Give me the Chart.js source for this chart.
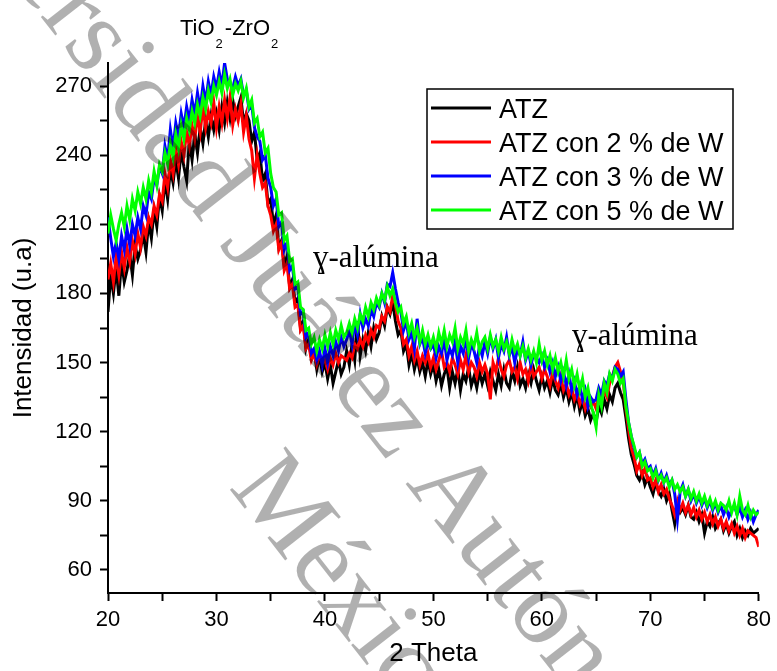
<!DOCTYPE html>
<html>
<head>
<meta charset="utf-8">
<script src="https://cdn.jsdelivr.net/npm/chart.js@4.4.1/dist/chart.umd.min.js"></script>
<style>
html, body { margin: 0; padding: 0; background: #fff; }
canvas { display: block; }
</style>
</head>
<body>
<canvas id="xrd" width="777" height="671"></canvas>
<script>
// 2 Theta grid: one reading every 0.25 deg from 20 to 80
var thetaStart = 20, thetaStep = 0.25;

var atz = [
  172, 188, 180, 191, 179, 194, 185, 190, 197, 188, 201, 195, 199, 206, 198, 211, 204, 216, 209, 222,
  216, 229, 221, 234, 228, 238, 230, 242, 235, 229, 246, 238, 249, 241, 252, 245, 255, 248, 257, 251,
  258, 251, 261, 254, 263, 256, 264, 257, 261, 265, 254, 258, 255, 246, 250, 238, 241, 229, 232, 219,
  221, 210, 214, 200, 203, 192, 196, 183, 186, 176, 178, 165, 168, 156, 160, 152, 155, 147, 153, 146,
  150, 143, 149, 141, 146, 151, 145, 148, 155, 149, 158, 151, 168, 153, 160, 155, 163, 157, 165, 160,
  163, 170, 166, 174, 171, 176, 168, 162, 164, 155, 158, 149, 154, 147, 152, 146, 150, 144, 151, 145,
  149, 142, 147, 140, 145, 148, 139, 146, 141, 147, 138, 145, 142, 148, 140, 144, 139, 146, 141, 145,
  140, 146, 142, 138, 145, 140, 147, 141, 139, 146, 142, 148, 140, 143, 139, 145, 141, 147, 142, 138,
  144, 139, 142, 137, 143, 138, 136, 141, 135, 139, 133, 137, 131, 136, 129, 133, 127, 130, 125, 128,
  124, 131, 128, 134, 130, 136, 133, 139, 141, 137, 134, 126, 117, 110, 106, 101, 99, 102, 97, 100,
  96, 93, 98, 94, 92, 95, 90, 93, 86, 80, 88, 85, 87, 84, 88, 83, 82, 85, 81, 84,
  76, 81, 79, 83, 78, 80, 82, 77, 80, 76, 79, 81, 75, 78, 74, 77, 75, 78, 76, 77,
  78
];

var atzW2 = [
  186, 193, 185, 196, 188, 198, 191, 200, 194, 203, 197, 206, 200, 209, 205, 213, 210, 218, 214, 223,
  220, 232, 226, 238, 232, 243, 236, 246, 240, 250, 244, 253, 247, 257, 250, 261, 252, 259, 254, 263,
  252, 261, 254, 264, 256, 265, 253, 260, 255, 262, 250, 257, 247, 242, 230, 240, 232, 226, 228, 218,
  214, 207, 210, 199, 202, 190, 193, 182, 184, 174, 175, 164, 166, 156, 158, 151, 154, 149, 153, 150,
  151, 147, 152, 149, 154, 150, 153, 152, 151, 154, 152, 158, 156, 160, 157, 162, 159, 164, 161, 166,
  165, 170, 168, 174, 172, 179, 175, 168, 165, 158, 160, 153, 157, 151, 155, 149, 153, 150, 154, 148,
  152, 147, 151, 155, 148, 150, 146, 152, 149, 145, 151, 147, 153, 146, 150, 148, 144, 150, 146, 149,
  145, 134, 150, 146, 152, 147, 144, 149, 151, 146, 148, 143, 150, 145, 147, 142, 149, 144, 146, 148,
  143, 147, 144, 140, 146, 142, 139, 144, 138, 141, 136, 139, 134, 137, 132, 135, 130, 134, 131, 133,
  130, 136, 133, 138, 135, 141, 144, 148, 150, 146, 142, 130, 121, 113, 109, 103, 106, 101, 104, 99,
  100, 96, 99, 94, 97, 93, 95, 91, 88, 84, 90, 86, 89, 85, 88, 84, 87, 83, 86, 82,
  85, 81, 84, 80, 83, 79, 82, 78, 81, 77, 80, 76, 79, 75, 78, 74, 77, 76, 75, 74,
  70
];

var atzW3 = [
  213, 204, 196, 202, 195, 205, 199, 208, 201, 210, 205, 213, 208, 218, 214, 224, 221, 230, 227, 235,
  232, 244, 238, 251, 243, 254, 248, 258, 252, 261, 255, 264, 258, 267, 260, 270, 263, 272, 266, 274,
  269, 276, 270, 280, 273, 271, 269, 274, 270, 273, 266, 268, 260, 262, 252, 248, 246, 238, 240, 230,
  226, 218, 221, 209, 211, 199, 202, 190, 192, 182, 183, 171, 172, 161, 163, 154, 156, 151, 155, 149,
  156, 150, 157, 153, 159, 155, 161, 157, 160, 164, 158, 167, 162, 171, 165, 169, 166, 173, 170, 176,
  174, 180, 176, 184, 183, 189, 182, 176, 172, 164, 168, 160, 163, 156, 169, 158, 161, 154, 159, 156,
  158, 152, 157, 154, 160, 151, 156, 153, 159, 150, 157, 154, 161, 152, 158, 155, 150, 157, 153, 159,
  154, 161, 156, 160, 152, 158, 155, 161, 153, 157, 150, 156, 153, 159, 151, 155, 149, 154, 152, 150,
  153, 148, 151, 146, 150, 144, 148, 142, 146, 140, 145, 138, 142, 136, 140, 134, 138, 131, 135, 133,
  134, 139, 136, 142, 140, 145, 143, 148, 147, 144, 146, 134, 124, 118, 113, 109, 111, 106, 108, 104,
  105, 101, 104, 99, 102, 98, 101, 97, 99, 93, 82, 94, 97, 92, 95, 90, 93, 89, 92, 88,
  91, 87, 90, 86, 89, 85, 88, 84, 87, 83, 86, 88, 84, 87, 83, 86, 82, 85, 81, 84,
  86
];

var atzW5 = [
  206, 214, 208, 203, 210, 215, 209, 218, 212, 221, 216, 224, 219, 226, 221, 229, 224, 233, 227, 236,
  233, 241, 236, 245, 239, 249, 243, 253, 247, 256, 251, 259, 254, 262, 257, 265, 260, 268, 263, 270,
  266, 272, 267, 275, 269, 273, 266, 271, 268, 272, 265, 269, 261, 264, 254, 256, 248, 250, 241, 243,
  232, 226, 224, 214, 215, 203, 205, 194, 195, 184, 185, 174, 173, 164, 165, 158, 161, 155, 160, 156,
  162, 157, 163, 158, 164, 160, 166, 161, 163, 167, 163, 169, 165, 171, 168, 174, 170, 176, 173, 178,
  175, 180, 177, 183, 179, 182, 176, 172, 174, 167, 170, 163, 167, 161, 165, 159, 164, 158, 162, 157,
  161, 156, 163, 158, 164, 157, 162, 159, 165, 156, 161, 158, 164, 155, 160, 157, 163, 155, 159, 161,
  156, 162, 157, 160, 155, 161, 156, 159, 154, 160, 155, 158, 153, 157, 152, 156, 151, 155, 150, 158,
  151, 155, 149, 153, 147, 152, 146, 150, 144, 151, 143, 147, 140, 145, 138, 143, 135, 139, 132, 128,
  122, 136, 131, 141, 137, 145, 142, 147, 145, 141, 143, 131, 124, 118, 114, 109, 111, 105, 107, 103,
  104, 100, 103, 99, 101, 98, 100, 96, 99, 95, 97, 94, 96, 92, 95, 91, 94, 90, 93, 89,
  92, 88, 91, 87, 90, 86, 89, 88, 86, 90, 85, 89, 84, 92, 86, 84, 88, 83, 86, 84,
  85
];

var seriesNames = ["ATZ", "ATZ con 2 % de W", "ATZ con 3 % de W", "ATZ con 5 % de W"];
var seriesColors = ["#000000", "#ff0000", "#0000ff", "#00ff00"];

var xMajor = [20, 30, 40, 50, 60, 70, 80];
var xMinor = [25, 35, 45, 55, 65, 75];
var yMajor = [60, 90, 120, 150, 180, 210, 240, 270];
var yMinor = [75, 105, 135, 165, 195, 225, 255];

function toPoints(arr) {
  return arr.map(function (v, i) { return { x: thetaStart + i * thetaStep, y: v }; });
}

function setTicks(major, minor) {
  return function (scale) {
    scale.ticks = major.concat(minor).sort(function (a, b) { return a - b; })
      .map(function (v) { return { value: v }; });
  };
}

function labelMajor(major) {
  return function (value) { return major.indexOf(value) >= 0 ? String(value) : ''; };
}

var sans = '"Liberation Sans", Arial, sans-serif';
var serif = '"Liberation Serif", "Times New Roman", "DejaVu Serif", serif';

var allSeries = [atz, atzW2, atzW3, atzW5];
var datasets = allSeries.map(function (arr, i) {
  return {
    label: seriesNames[i],
    data: toPoints(arr),
    borderColor: seriesColors[i],
    backgroundColor: seriesColors[i],
    borderWidth: 3,
    pointRadius: 0,
    tension: 0,
    order: allSeries.length - 1 - i
  };
});

var extras = {
  id: 'extras',
  afterDatasetsDraw: function (chart) {
    var ctx = chart.ctx;
    ctx.save();
    ctx.fillStyle = '#000';
    ctx.textBaseline = 'alphabetic';
    ctx.textAlign = 'left';

    // TiO2-ZrO2
    var x = 180;
    ctx.font = '22px ' + sans;
    ctx.fillText('TiO', x, 35); x += ctx.measureText('TiO').width + 1;
    ctx.font = '13px ' + sans;
    ctx.fillText('2', x, 48); x += ctx.measureText('2').width + 2;
    ctx.font = '22px ' + sans;
    ctx.fillText('-ZrO', x, 35); x += ctx.measureText('-ZrO').width + 1;
    ctx.font = '13px ' + sans;
    ctx.fillText('2', x, 48);

    // gamma-alumina labels
    ctx.font = '31px ' + serif;
    ctx.fillText('ɣ-alúmina', 313, 267);
    ctx.fillText('ɣ-alúmina', 572, 345);

    // legend box
    ctx.lineWidth = 1.5;
    ctx.strokeStyle = '#000';
    ctx.fillStyle = '#fff';
    ctx.fillRect(427, 89, 306, 140);
    ctx.strokeRect(427, 89, 306, 140);
    var rows = [108, 142, 176, 210];
    ctx.font = '27px ' + sans;
    for (var i = 0; i < seriesNames.length; i++) {
      ctx.strokeStyle = seriesColors[i];
      ctx.lineWidth = 3;
      ctx.beginPath();
      ctx.moveTo(431, rows[i]);
      ctx.lineTo(491, rows[i]);
      ctx.stroke();
      ctx.fillStyle = '#000';
      ctx.fillText(seriesNames[i], 499, rows[i] + 10);
    }
    ctx.restore();
  },
  afterDraw: function (chart) {
    // faint watermark over the figure
    var ctx = chart.ctx;
    ctx.save();
    ctx.fillStyle = 'rgba(0,0,0,0.31)';
    ctx.font = '108px ' + serif;
    ctx.textBaseline = 'alphabetic';
    ctx.translate(261, 299);
    ctx.rotate(52 * Math.PI / 180);
    var lead = ctx.measureText('Universidad J').width + ctx.measureText('u').width / 2;
    ctx.fillText('Universidad Juárez Autónoma de Tabasco', -lead, 0);
    ctx.fillText('México', 128, 142);
    ctx.restore();
  }
};

new Chart(document.getElementById('xrd'), {
  type: 'line',
  data: { datasets: datasets },
  options: {
    responsive: false,
    animation: false,
    devicePixelRatio: 1,
    layout: { padding: { left: 0, right: 14, top: 63, bottom: 0 } },
    plugins: { legend: { display: false }, tooltip: { enabled: false } },
    scales: {
      x: {
        type: 'linear',
        min: 20,
        max: 80,
        afterBuildTicks: setTicks(xMajor, xMinor),
        afterFit: function (s) { s.height = 78; },
        border: { color: '#000', width: 2 },
        grid: { drawOnChartArea: false, tickLength: 8, tickColor: '#000', tickWidth: 2 },
        ticks: { autoSkip: false, maxRotation: 0, padding: 6, color: '#000',
                 font: { family: sans, size: 22 }, callback: labelMajor(xMajor) },
        title: { display: true, text: '2 Theta', color: '#000',
                 font: { family: sans, size: 26 }, padding: { top: 0, bottom: 2 } }
      },
      y: {
        min: 50,
        max: 280,
        afterBuildTicks: setTicks(yMajor, yMinor),
        afterFit: function (s) { s.width = 108; },
        border: { color: '#000', width: 2 },
        grid: { drawOnChartArea: false, tickLength: 8, tickColor: '#000', tickWidth: 2 },
        ticks: { autoSkip: false, padding: 8, color: '#000',
                 font: { family: sans, size: 22 }, callback: labelMajor(yMajor) },
        title: { display: true, text: 'Intensidad (u.a)', color: '#000',
                 font: { family: sans, size: 26 }, padding: { top: 8, bottom: 0 } }
      }
    }
  },
  plugins: [extras]
});
</script>
</body>
</html>
